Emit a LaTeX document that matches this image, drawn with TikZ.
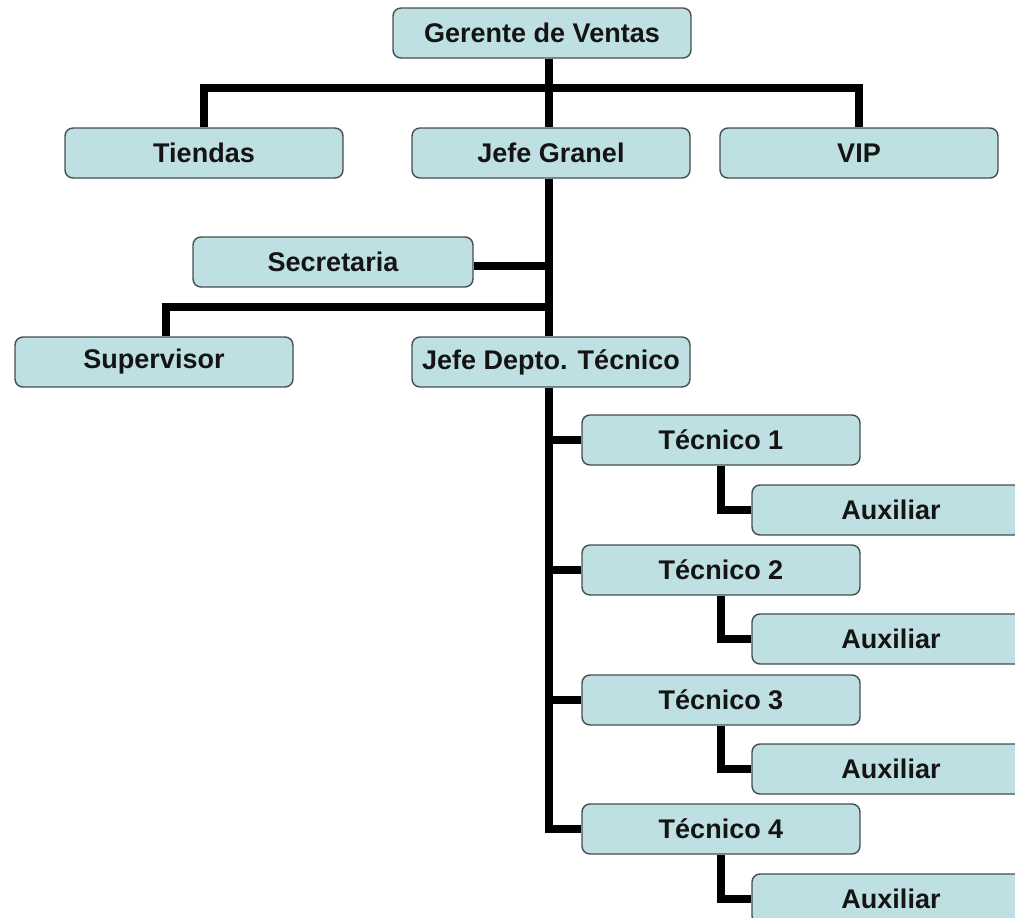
\documentclass[tikz,border=0pt]{standalone}
\usepackage{fontspec}
\setmainfont{Liberation Sans}
\definecolor{boxfill}{RGB}{190,224,226}
\definecolor{boxline}{RGB}{70,78,80}
\definecolor{ink}{RGB}{20,20,20}
\begin{document}
\begin{tikzpicture}[x=1pt,y=-1pt,
  unit/.style={draw=boxline, line width=1.4pt, fill=boxfill, rounded corners=8pt,
    minimum width=278pt, minimum height=50pt, inner sep=0pt, text=ink,
    font=\bfseries\fontsize{27}{32}\selectfont},
  link/.style={line width=8pt, black, line join=miter}]
\useasboundingbox (0,0) rectangle (1015,918);
\clip (0,0) rectangle (1015,918);

% junction points of the branch lines
\coordinate (topbar) at (549,88);
\coordinate (supbar) at (549,307);

% boxes
\node[unit, minimum width=298pt] (ger) at (542,33) {Gerente de Ventas};
\node[unit] (tie) at (204,153) {Tiendas};
\node[unit] (jg)  at (551,153) {Jefe Granel};
\node[unit] (vip) at (859,153) {VIP};
\node[unit, minimum width=280pt] (sec) at (333,262) {Secretaria};
\node[unit] (sup) at (154,362) {Supervisor};
\node[unit] (jdt) at (551,362) {Jefe Depto. Técnico};
\node[unit] (t1) at (721,440) {Técnico 1};
\node[unit] (a1) at (891,510) {Auxiliar};
\node[unit] (t2) at (721,570) {Técnico 2};
\node[unit] (a2) at (891,639) {Auxiliar};
\node[unit] (t3) at (721,700) {Técnico 3};
\node[unit] (a3) at (891,769) {Auxiliar};
\node[unit] (t4) at (721,829) {Técnico 4};
\node[unit] (a4) at (891,899) {Auxiliar};

% upper level
\draw[link] (ger.south -| topbar) -- (jg.north -| topbar);
\draw[link] (tie.north) |- (topbar) -| (vip.north);
% Jefe Granel branch
\draw[link] (jg.south -| topbar) -- (jdt.north -| topbar);
\draw[link] ([yshift=-4pt]sec.east) -- ([yshift=-4pt]sec.east -| topbar);
\draw[link] ([xshift=12pt]sup.north) |- (supbar);
% technical department
\draw[link] (jdt.south -| topbar) |- (t4.west);
\draw[link] (t1.west) -- (t1.west -| topbar);
\draw[link] (t2.west) -- (t2.west -| topbar);
\draw[link] (t3.west) -- (t3.west -| topbar);
\draw[link] (t1.south) |- (a1.west);
\draw[link] (t2.south) |- (a2.west);
\draw[link] (t3.south) |- (a3.west);
\draw[link] (t4.south) |- (a4.west);
\end{tikzpicture}
\end{document}
